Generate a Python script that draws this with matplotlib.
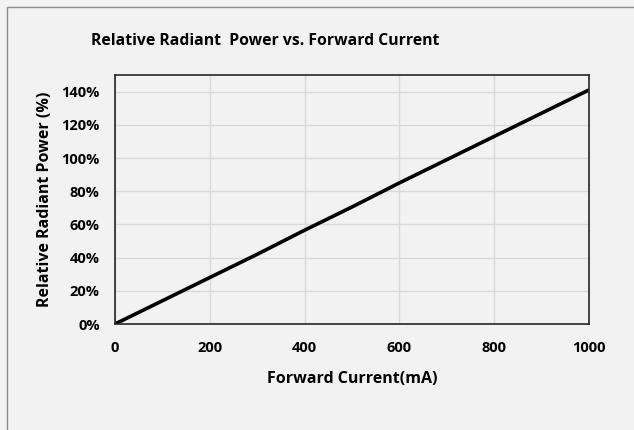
import numpy as np
import matplotlib.pyplot as plt
from matplotlib.patches import Rectangle

# data
current_ma = [0, 100, 200, 300, 400, 500, 600, 700, 800, 900, 1000]
rel_power = [0, 14, 28, 42, 56.5, 70.5, 85, 99, 113, 127, 141]

x_ticks = [0, 200, 400, 600, 800, 1000]
y_ticks = [0, 20, 40, 60, 80, 100, 120, 140]

plt.rcParams['font.family'] = ['Open Sans', 'DejaVu Sans']
plt.rcParams['font.weight'] = 'bold'

bg = "#f2f2f2"
fig = plt.figure(figsize=(6.34, 4.30), dpi=100, facecolor=bg)
ax = fig.add_axes([115/634, 1-324/430, 474/634, 249/430], facecolor=bg)

# outer chart border (only top/left visible in crop)
fig.patches.append(Rectangle((7/634, -0.1), 1.2, 1-7/430+0.1, transform=fig.transFigure,
                             fill=False, edgecolor="#8c8c8c", linewidth=1.0))

ax.plot(current_ma, rel_power, color="black", linewidth=2.6, solid_capstyle="butt")

ax.set_xlim(0, 1000)
ax.set_ylim(0, 150)
ax.set_xticks(x_ticks)
ax.set_yticks(y_ticks)
ax.set_yticklabels([f"{v}%" for v in y_ticks])
ax.tick_params(length=0, labelsize=10.5)
ax.tick_params(axis="x", pad=12)
ax.tick_params(axis="y", pad=11)
for lab in ax.get_xticklabels() + ax.get_yticklabels():
    lab.set_fontweight("bold")

ax.grid(True, color="#d9d9d9", linewidth=1.0)
ax.set_axisbelow(True)
for s in ax.spines.values():
    s.set_color("#262626")
    s.set_linewidth(1.2)

ax.set_xlabel("Forward Current(mA)", fontsize=11.5, fontweight="bold", labelpad=12)
ax.set_ylabel("Relative Radiant Power (%)", fontsize=11.5, fontweight="bold", labelpad=6)
fig.text(265/634, 1-41/430, "Relative Radiant  Power vs. Forward Current",
         ha="center", va="center", fontsize=11.3, fontweight="bold")

fig.savefig("out.png", dpi=100, facecolor=bg)
